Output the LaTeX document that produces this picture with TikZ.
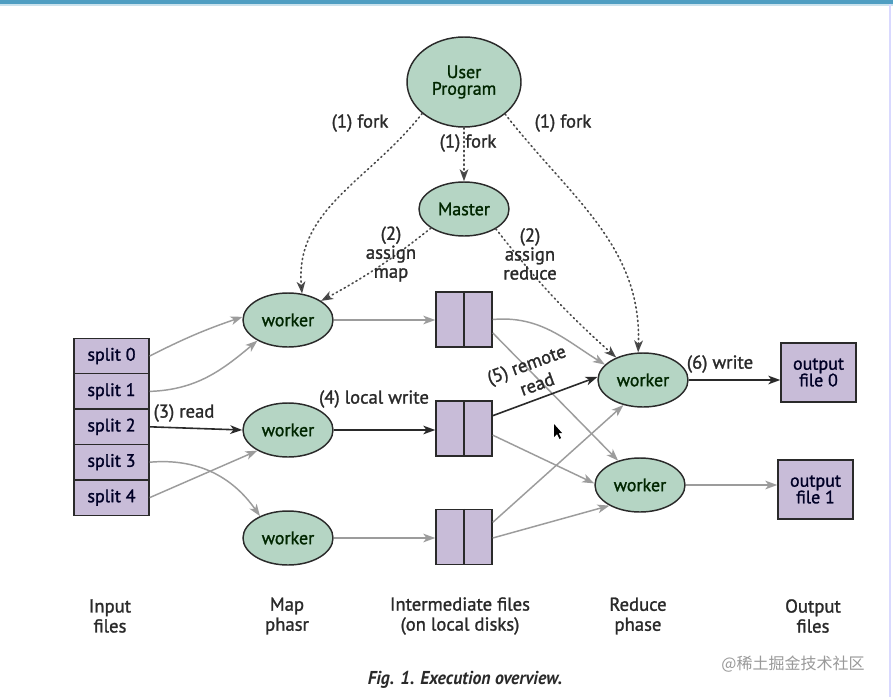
\documentclass[tikz,border=0pt]{standalone}
\usepackage{fontspec}
\setmainfont{PT Sans}
\newfontfamily\semib{PT Sans}[RawFeature={embolden=1.3}]
\newfontfamily\cjkfont{Noto Sans CJK SC}
\usetikzlibrary{arrows.meta,shapes.geometric}
\definecolor{ellfill}{HTML}{B5D5C4}
\definecolor{boxfill}{HTML}{C8BCD8}
\definecolor{edgegray}{HTML}{9C9C9C}
\definecolor{dk}{HTML}{2A2A2A}
\definecolor{topbar}{HTML}{4F9EC2}
\begin{document}
\begin{tikzpicture}[x=0.75pt,y=0.75pt,
  proc/.style={ellipse, draw=dk, line width=1.1pt, fill=ellfill, minimum width=67.5pt, minimum height=40.5pt, inner sep=0pt, font=\semib\fontsize{13.5}{13}\selectfont, text=black!85!green, align=center},
  filebox/.style={rectangle, draw=dk, line width=1.1pt, fill=boxfill, minimum width=56.25pt, minimum height=26.6pt, inner sep=0pt, font=\semib\fontsize{13.5}{13}\selectfont, text=black!85!blue, align=center},
  interbox/.style={rectangle, draw=dk, line width=1.1pt, fill=boxfill, minimum width=42pt, minimum height=41.25pt, inner sep=0pt},
  outbox/.style={rectangle, draw=dk, line width=1.1pt, fill=boxfill, minimum width=56.25pt, minimum height=44.25pt, inner sep=0pt, font=\semib\fontsize{13.5}{13}\selectfont, text=black!85!blue, align=center},
  grayarrow/.style={draw=edgegray, line width=1.1pt, -{Stealth[length=9pt,width=6.5pt,inset=2.5pt]}},
  blackarrow/.style={draw=dk, line width=1.2pt, -{Stealth[length=9pt,width=6.5pt,inset=2.5pt]}},
  dotarrow/.style={draw=dk!85, line width=1.2pt, dash pattern=on 1pt off 2.4pt, -{Stealth[length=9pt,width=6.5pt,inset=2.5pt,fill=dk]}, line cap=round},
  lbl/.style={font=\semib\fontsize{14}{14.25}\selectfont, text=dk, inner sep=0pt, align=center},
  bottomlbl/.style={font=\semib\fontsize{14}{15}\selectfont, text=dk, inner sep=0pt, align=center}
]
\useasboundingbox (0,0) rectangle (893,-697);
\fill[white] (0,0) rectangle (893,-697);
\fill[topbar] (0,0) rectangle (893,-4);
\fill[topbar!30] (0,-4) rectangle (893,-6);
\fill[blue!15] (889,-4) rectangle (891,-697);

% nodes
\node[proc, minimum width=85.5pt, minimum height=67.5pt] (up) at (464,-82) {User\\[-0.5pt]Program};
\node[proc] (master) at (464,-209) {Master};
\node[proc] (w1) at (288,-320) {worker};
\node[proc] (w2) at (288,-430) {worker};
\node[proc] (w3) at (288,-538) {worker};
\node[proc] (r1) at (643,-380) {worker};
\node[proc] (r2) at (640,-485) {worker};

\node[filebox] (s0) at (111.5,-356) {split 0};
\node[filebox] (s1) at (111.5,-391.4) {split 1};
\node[filebox] (s2) at (111.5,-426.8) {split 2};
\node[filebox] (s3) at (111.5,-462.2) {split 3};
\node[filebox] (s4) at (111.5,-497.6) {split 4};

\node[interbox] (i1) at (464,-319.5) {};
\node[interbox] (i2) at (464,-428.5) {};
\node[interbox] (i3) at (464,-537) {};
\foreach \n in {i1,i2,i3} \draw[dk, line width=1.1pt] (\n.north) -- (\n.south);

\node[outbox] (o0) at (818.5,-372.5) {output\\[-0.5pt]file 0};
\node[outbox] (o1) at (815.5,-489.5) {output\\[-0.5pt]file 1};

% fork / assign
\draw[dotarrow] (up.south) -- (master.north);
\draw[dotarrow] (up.217) to[out=-128,in=95] (w1.62);
\draw[dotarrow] (up.322) to[out=-52,in=88] (r1.100);
\draw[dotarrow] (master.210) to[bend left=5] (w1.30);
\draw[dotarrow] (master.328) to[bend right=5] (r1.140);

\node[lbl] (lf1) at (360,-123) {(1) fork};
\node[lbl] (lf2) at (468,-143) {(1) fork};
\node[lbl] (lf3) at (563,-123) {(1) fork};
\node[lbl] (la1) at (391,-254) {(2)\\assign\\map};
\node[lbl] (la2) at (530,-254) {(2)\\assign\\reduce};

% input to map
\draw[grayarrow] (s0.east) to[bend left=4] (w1.176);
\draw[grayarrow] (s1.east) to[out=2,in=-140] (w1.214);
\draw[blackarrow] (s2.east) -- (w2.west);
\draw[grayarrow] (s3.east) to[out=5,in=125] (w3.142);
\draw[grayarrow] (s4.east) -- (w2.214);
\node[lbl] (lread) at (184,-413) {(3) read};

% map to intermediate
\draw[grayarrow] (w1.east) -- (w1.east -| i1.west);
\draw[blackarrow] (w2.east) -- (w2.east -| i2.west);
\draw[grayarrow] (w3.east) -- (w3.east -| i3.west);
\node[lbl] (lwrite) at (374,-399) {(4) local write};

% intermediate to reduce
\draw[grayarrow] (i1.east) to[out=5,in=148] (r1.158);
\draw[grayarrow] (i1.-25) -- (r2.132);
\draw[blackarrow] (i2.24) -- (r1.176);
\draw[grayarrow] (i2.-13) -- (r2.178);
\draw[grayarrow] (i3.27) -- (r1.232);
\draw[grayarrow] (i3.-2) -- (r2.214);
\node[lbl, rotate=20] (lremote) at (527,-366) {(5) remote};
\node[lbl, rotate=20] (lremote2) at (537,-384) {read};

% reduce to output
\draw[blackarrow] (r1.east) -- (r1.east -| o0.west);
\draw[grayarrow] (r2.east) -- (r2.east -| o1.west);
\node[lbl] (l6) at (720,-364) {(6) write};

% cursor
\fill[black] (554,-424) -- (554,-437) -- (557,-434) -- (559.5,-439) -- (561,-438) -- (558.5,-433) -- (562,-433) -- cycle;

% bottom labels
\node[bottomlbl] (b1) at (110,-616) {Input\\files};
\node[bottomlbl] (b2) at (287,-616) {Map\\phasr};
\node[bottomlbl] (b3) at (460,-616) {Intermediate files\\(on local disks)};
\node[bottomlbl] (b4) at (638,-616) {Reduce\\phase};
\node[bottomlbl] (b5) at (813,-616) {Output\\files};
\node[font=\fontsize{14}{14}\selectfont\bfseries\itshape, text=dk, inner sep=0pt] (cap) at (465,-680) {\scalebox{0.95}[1]{Fig. 1. Execution overview.}};
\node[font=\cjkfont\fontsize{12}{12}\selectfont, text=black!40, inner sep=0pt] (wm) at (793,-664) {@稀土掘金技术社区};
\end{tikzpicture}
\end{document}
